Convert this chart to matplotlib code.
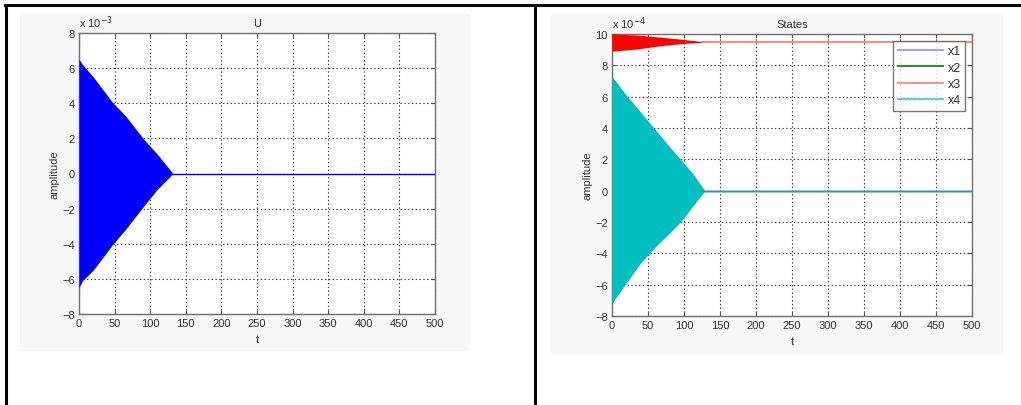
import matplotlib.pyplot as plt
from matplotlib.patches import Rectangle
from matplotlib.lines import Line2D

plt.rcParams['font.family'] = ['Liberation Sans', 'DejaVu Sans']

W, H = 1021, 406

# control signal U: envelope of the oscillation (x 1e-3)
u_t = [0, 5, 20, 35, 48, 65, 90, 110, 132]
u_hi = [6.5, 6.2, 5.5, 4.7, 4.0, 3.3, 2.0, 1.1, 0.0]
u_lo = [-6.5, -6.1, -5.5, -4.7, -4.0, -3.2, -1.9, -0.9, 0.0]
u_tail_t = [130, 500]
u_tail = [0.0, 0.0]

# states (x 1e-4)
x4_t = [0, 18, 40, 60, 80, 97, 112, 129]
x4_hi = [7.3, 6.2, 5.0, 3.9, 2.8, 1.9, 1.1, 0.0]
x4_lo = [-7.2, -6.0, -4.6, -3.6, -2.7, -1.9, -1.0, 0.0]
x3_t = [0, 36, 67, 100, 129]
x3_hi = [10.0, 9.93, 9.8, 9.65, 9.5]
x3_lo = [8.9, 9.05, 9.25, 9.4, 9.48]
tail_t = [125, 500]
x1_tail = [0.0, 0.0]
x2_tail = [0.0, 0.0]
x3_tail = [9.5, 9.5]
x4_tail = [0.0, 0.0]

x_ticks = list(range(0, 501, 50))
u_ticks = list(range(-8, 9, 2))
s_ticks = list(range(-8, 11, 2))

fig = plt.figure(figsize=(W / 100, H / 100), dpi=100)
fig.patch.set_facecolor('white')

# faint grey figure backgrounds
for x0, y0, x1, y1 in [(20, 15, 470, 352), (550, 15, 1003, 355)]:
    fig.patches.append(Rectangle((x0 / W, 1 - y1 / H), (x1 - x0) / W, (y1 - y0) / H,
                                 transform=fig.transFigure, facecolor='#f7f7f7',
                                 edgecolor='none', zorder=-5))

# table border
for xs, ys in [([5 / W, 1], [1 - 6 / H, 1 - 6 / H]),
               ([6 / W, 6 / W], [0, 1 - 6 / H]),
               ([535 / W, 535 / W], [0, 1 - 6 / H])]:
    fig.lines.append(Line2D(xs, ys, transform=fig.transFigure, color='black', lw=2.2))


def style(ax, yticks, exp, title):
    ax.set_facecolor('white')
    ax.set_xlim(0, 500)
    ax.set_ylim(yticks[0], yticks[-1])
    ax.set_xticks(x_ticks)
    ax.set_yticks(yticks)
    ax.tick_params(direction='in', length=3, top=True, right=True, labelsize=8,
                   labelcolor='#333333', color='#555555', pad=3)
    ax.grid(True, color='#333333', linestyle=(0, (1.2, 2.2)), lw=0.8)
    for s in ax.spines.values():
        s.set_color('#707070')
        s.set_linewidth(1.0)
    ax.set_xlabel('t', fontsize=8, color='#333333', labelpad=4)
    ax.set_ylabel('amplitude', fontsize=8, color='#333333', labelpad=2)
    ax.set_title(title, fontsize=8, color='#333333', pad=5)
    ax.text(0.0, 1.012, r'x 10$^{%d}$' % exp, transform=ax.transAxes, fontsize=8,
            color='#333333', ha='left', va='bottom')


ax1 = fig.add_axes([79 / W, 1 - 315 / H, 356 / W, 281 / H])
ax1.fill_between(u_t, u_lo, u_hi, color='#0000ff', lw=0, zorder=3)
ax1.plot(u_tail_t, u_tail, color='#0000ff', lw=1.0, zorder=3)
style(ax1, u_ticks, -3, 'U')

ax2 = fig.add_axes([612 / W, 1 - 317 / H, 360 / W, 282 / H])
ax2.plot(tail_t, x1_tail, color='#8080ff', lw=1.0, label='x1', zorder=3)
ax2.plot(tail_t, x2_tail, color='#2e8b3e', lw=1.0, label='x2', zorder=3)
ax2.fill_between(x3_t, x3_lo, x3_hi, color='#ff0000', lw=0, zorder=3)
ax2.plot(tail_t, x3_tail, color='#ff7070', lw=1.2, label='x3', zorder=3)
ax2.fill_between(x4_t, x4_lo, x4_hi, color='#00bfbf', lw=0, zorder=3)
ax2.plot(tail_t, x4_tail, color='#20a0a0', lw=1.0, label='x4', zorder=3)
style(ax2, s_ticks, -4, 'States')
leg = ax2.legend(loc='upper right', fontsize=9, frameon=True, fancybox=False,
                 handlelength=3.6, borderpad=0.35, labelspacing=0.35,
                 handletextpad=0.4, borderaxespad=0.55)
leg.get_frame().set_edgecolor('#555555')
leg.get_frame().set_linewidth(1.0)
for txt in leg.get_texts():
    txt.set_color('#333333')
handle_colors = ['#a0a0ff', '#2e8b3e', '#ff9090', '#60d0d0']
for h, c in zip(leg.legend_handles, handle_colors):
    h.set_color(c)
    h.set_linewidth(1.5)

fig.savefig('out.png', dpi=100)
